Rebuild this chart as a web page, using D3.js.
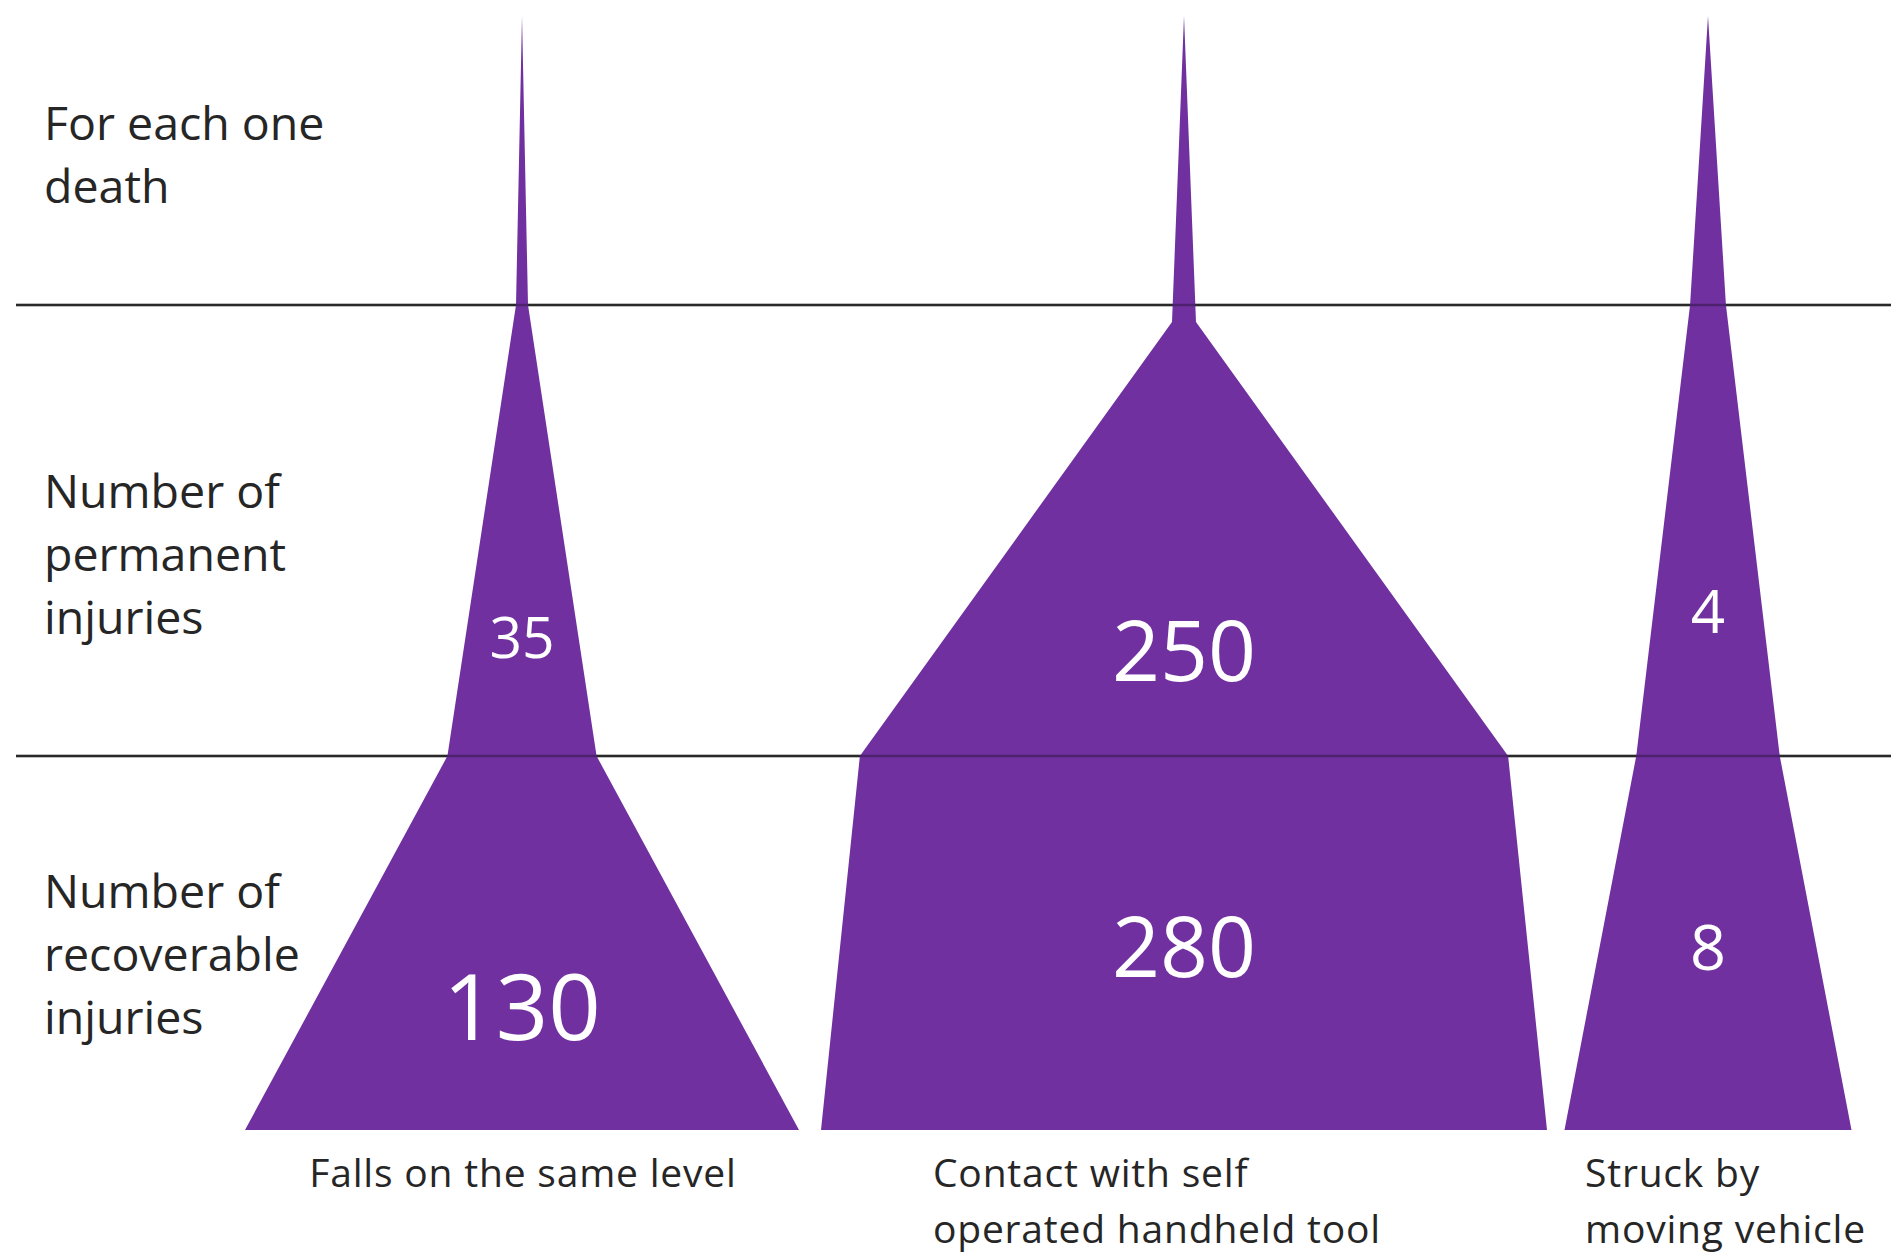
<!DOCTYPE html>
<html>
<head>
<meta charset="utf-8">
<script src="https://cdn.jsdelivr.net/npm/d3@7"></script>
<style>
  html, body { margin: 0; padding: 0; background: #ffffff; }
  svg { display: block; }
</style>
</head>
<body>
<svg id="chart" width="1896" height="1254"></svg>
<script>
// ---------- data ----------
const categories = ["Falls on the same level", "Contact with self operated handheld tool", "Struck by moving vehicle"];
const categoryLabelLines = [["Falls on the same level"], ["Contact with self", "operated handheld tool"], ["Struck by", "moving vehicle"]];
const levelLabels = [["For each one", "death"], ["Number of", "permanent", "injuries"], ["Number of", "recoverable", "injuries"]];
const deaths = [1, 1, 1];
const permanent = [35, 250, 4];
const recoverable = [130, 280, 8];

// ---------- layout ----------
const purple = "#7030A0";
const fontFamily = "'Open Sans', 'Noto Sans', sans-serif";
const centers = [522, 1184, 1708];
const baseWidths = [554, 726, 287];
const stemMin = [12, 24, 0];
const stemDrop = [0, 17, 0];
const permFont = [57, 84, 60];
const recFont = [92, 84, 63];
const permLabelY = [658, 681, 633];
const recLabelY = [1040, 977, 970];
const catLabelX = [523, 933, 1585];
const catLabelAnchor = ["middle", "start", "start"];

const svg = d3.select("#chart");

// level boundaries: 0 = tip, 1 = death/permanent line, 2 = permanent/recoverable line, 3 = base
const y = d3.scaleLinear().domain([0, 1, 2, 3]).range([16, 305, 756, 1130]);
const x = d3.scaleOrdinal().domain(categories).range(centers);

// guide lines (under shapes)
const guideX = d3.scaleLinear().domain([0, 1]).range([16, 1891]);
svg.append("g").selectAll("line").data([1, 2]).join("line")
  .attr("x1", guideX(0)).attr("x2", guideX(1))
  .attr("y1", d => y(d)).attr("y2", d => y(d))
  .attr("stroke", "#3c3c3c").attr("stroke-width", 2.5);

// shapes
const shapes = categories.map((c, i) => {
  const w = d3.scaleLinear().domain([0, recoverable[i]]).range([0, baseWidths[i]]);
  const cx = x(c);
  const ws = Math.max(w(deaths[i]), stemMin[i]) / 2;
  const wp = w(permanent[i]) / 2;
  const wr = w(recoverable[i]) / 2;
  const y1 = y(1) + stemDrop[i];
  return [
    [cx, y(0)],
    [cx + ws, y1],
    [cx + wp, y(2)],
    [cx + wr, y(3)],
    [cx - wr, y(3)],
    [cx - wp, y(2)],
    [cx - ws, y1]
  ];
});
const line = d3.line();
svg.append("g").selectAll("path").data(shapes).join("path")
  .attr("d", d => line(d) + "Z")
  .attr("fill", purple);

// faint guide overlay on top of shapes
svg.append("g").selectAll("line").data([1, 2]).join("line")
  .attr("x1", guideX(0)).attr("x2", guideX(1))
  .attr("y1", d => y(d)).attr("y2", d => y(d))
  .attr("stroke", "#000").attr("stroke-opacity", 0.3).attr("stroke-width", 2.5);

// value labels
const valG = svg.append("g").attr("font-family", fontFamily).attr("fill", "#ffffff").attr("text-anchor", "middle");
categories.forEach((c, i) => {
  valG.append("text").attr("x", x(c)).attr("y", permLabelY[i])
    .attr("font-size", permFont[i]).text(permanent[i]);
  valG.append("text").attr("x", x(c)).attr("y", recLabelY[i])
    .attr("font-size", recFont[i]).text(recoverable[i]);
});

// level labels (left)
const levelBase = [140, 508, 908];
const lg = svg.append("g").attr("font-family", fontFamily).attr("fill", "#262626").attr("font-size", 46.5);
levelLabels.forEach((lines, i) => {
  lines.forEach((t, j) => {
    lg.append("text").attr("x", 44).attr("y", levelBase[i] + j * 63).text(t);
  });
});

// category labels (bottom)
const cg = svg.append("g").attr("font-family", fontFamily).attr("fill", "#262626")
  .attr("font-size", 39).attr("letter-spacing", 0.8);
categoryLabelLines.forEach((lines, i) => {
  lines.forEach((t, j) => {
    cg.append("text").attr("x", catLabelX[i]).attr("y", 1187 + j * 56)
      .attr("text-anchor", catLabelAnchor[i]).text(t);
  });
});
</script>
</body>
</html>
